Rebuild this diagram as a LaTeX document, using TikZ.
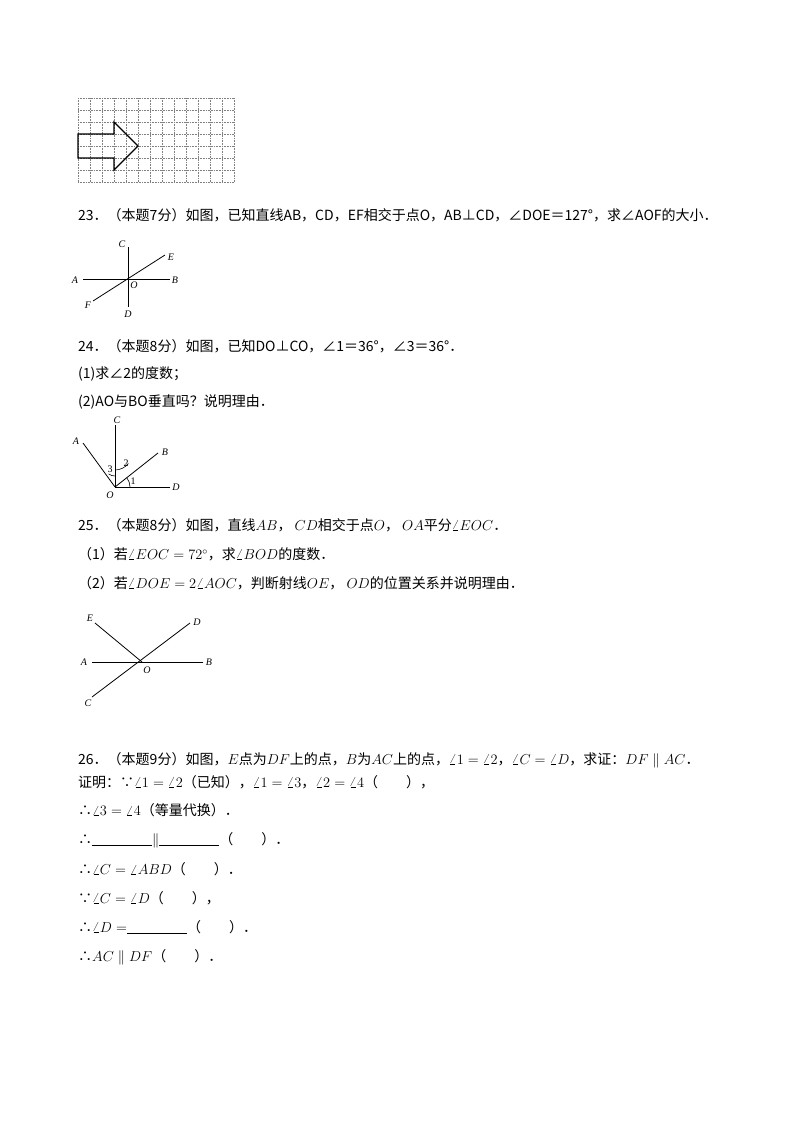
\documentclass[tikz,border=0pt]{standalone}
\usepackage{fontspec}
\setmainfont{Noto Sans CJK SC}
\newfontfamily\latin{Liberation Serif}
\usetikzlibrary{positioning}
\tikzset{
  txt/.style={anchor=west,inner sep=0pt,font=\fontsize{14}{16}\selectfont},
  lbl/.style={inner sep=0pt,font=\fontsize{10}{11}\selectfont\itshape\latin},
  num/.style={inner sep=0pt,font=\fontsize{10}{11}\selectfont\latin},
  fig/.style={line width=0.8pt},
  gridline/.style={gray,densely dotted,line width=0.6pt},
}
\newcommand{\blank}[1]{\underline{\makebox[#1]{}}}
\begin{document}
\begin{tikzpicture}[x=1pt,y=-1pt]
\useasboundingbox[fill=white] (0,0) rectangle (800,1132);

% grid with arrow
\foreach \i in {0,...,13} \draw[gridline] (78+12*\i,98) -- (78+12*\i,182);
\foreach \j in {0,...,7} \draw[gridline] (78,98+12*\j) -- (234,98+12*\j);
\draw[line width=1.4pt] (78,134) -- (114,134) -- (114,122) -- (138,146)
   -- (114,170) -- (114,158) -- (78,158) -- cycle;

% question 23
\node[txt] (q23) at (78,215) {23．（本题7分）如图，已知直线AB，CD，EF相交于点O，AB⊥CD，∠DOE＝127°，求∠AOF的大小．};
\node[lbl] (c1) at (122,244) {C};
\node[lbl] (d1) at (128,314) {D};
\node[lbl] (a1) at (75,280) {A};
\node[lbl] (b1) at (175,280) {B};
\node[lbl] (e1) at (171,257) {E};
\node[lbl] (f1) at (88,305) {F};
\node[lbl] (oo1) at (134,285) {O};
\draw[fig] (128,247) -- (128,307);
\draw[fig] (83,279) -- (170,279);
\draw[fig] (93,301) -- (165,255);

% question 24
\node[txt] (q24) at (78,346) {24．（本题8分）如图，已知DO⊥CO，∠1＝36°，∠3＝36°．};
\node[txt] (q24a) at (78,374) {(1)求∠2的度数；};
\node[txt] (q24b) at (78,402) {(2)AO与BO垂直吗？说明理由．};
\coordinate (o2) at (115,487);
\draw[fig] (o2) -- (115,425);
\draw[fig] (o2) -- (83,443);
\draw[fig] (o2) -- (158,453);
\draw[fig] (o2) -- (170,487);
\draw[line width=0.6pt] ([shift={(15,0)}]o2) arc[start angle=0,end angle=-38,radius=15];
\draw[line width=0.6pt] ([shift={(0,-17)}]o2) arc[start angle=90,end angle=38,radius=17];
\draw[line width=0.6pt] ([shift={(0,-11)}]o2) arc[start angle=90,end angle=126,radius=11];
\node[lbl] (c2) at (117,420) {C};
\node[lbl] (a2) at (76,441) {A};
\node[lbl] (b2) at (165,452) {B};
\node[lbl] (d2) at (176,487) {D};
\node[lbl] (oo2) at (110,495) {O};
\node[num] (n3) at (110,469) {3};
\node[num] (n2) at (126,463) {2};
\node[num] (n1) at (133,481) {1};

% question 25
\node[txt] (q25) at (78,525) {25．（本题8分）如图，直线$AB$， $CD$相交于点$O$， $OA$平分$\angle EOC$．};
\node[txt] (q25a) at (78,554) {（1）若$\angle EOC=72^\circ$，求$\angle BOD$的度数．};
\node[txt] (q25b) at (78,583) {（2）若$\angle DOE=2\angle AOC$，判断射线$OE$， $OD$的位置关系并说明理由．};
\coordinate (o3) at (142,662);
\draw[fig] (92,662) -- (203,662);
\draw[fig] (95,623) -- (o3);
\draw[fig] (92,697) -- (190,623);
\node[lbl] (e3) at (90,618) {E};
\node[lbl] (d3) at (197,622) {D};
\node[lbl] (a3) at (84,662) {A};
\node[lbl] (b3) at (209,662) {B};
\node[lbl] (oo3) at (147,670) {O};
\node[lbl] (c3) at (88,703) {C};

% question 26
\node[txt] (q26) at (78,760) {26．（本题9分）如图，$E$点为$DF$上的点，$B$为$AC$上的点，$\angle1=\angle2$，$\angle C=\angle D$，求证：$DF\parallel AC$．};
\node[txt] (p1) at (78,782) {证明：∵$\angle1=\angle2$（已知），$\angle1=\angle3$，$\angle2=\angle4$（\hspace{2em}），};
\node[txt] (p2) at (78,810) {∴$\angle3=\angle4$（等量代换）．};
\node[txt] (p3) at (78,840) {∴\blank{60pt}$\parallel$\blank{60pt}（\hspace{2em}）．};
\node[txt] (p4) at (78,869) {∴$\angle C=\angle ABD$（\hspace{2em}）．};
\node[txt] (p5) at (78,898) {∵$\angle C=\angle D$（\hspace{2em}），};
\node[txt] (p6) at (78,927) {∴$\angle D=$\blank{60pt}（\hspace{2em}）．};
\node[txt] (p7) at (78,957) {∴$AC\parallel DF$（\hspace{2em}）．};
\end{tikzpicture}
\end{document}
